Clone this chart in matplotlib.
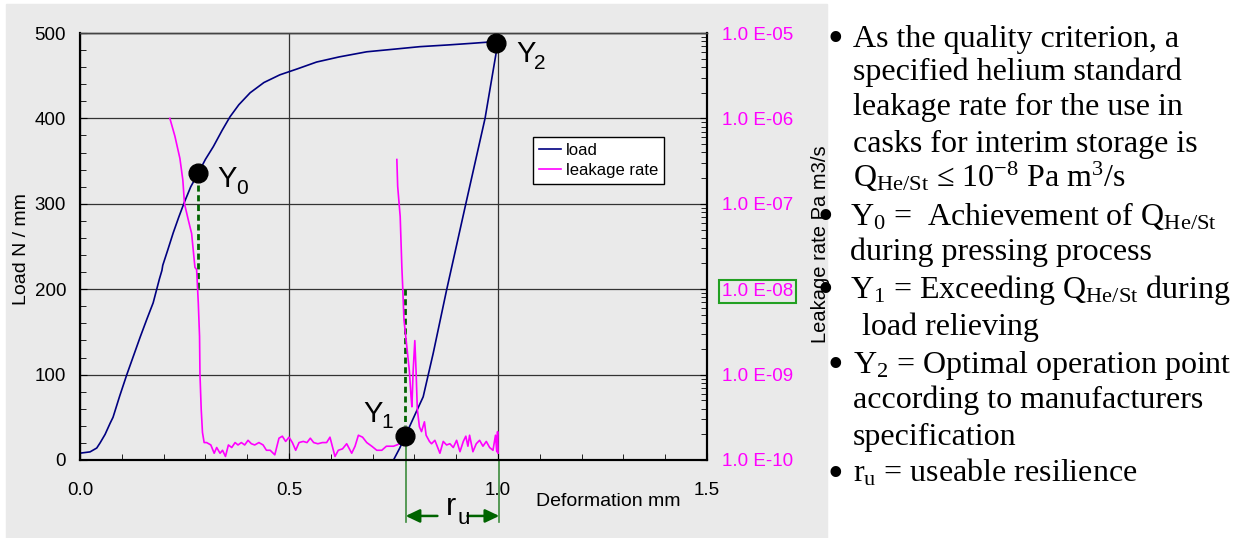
'''
Load / leakage rate vs deformation of a metal seal, with the Y0, Y1, Y2 points
'''
import matplotlib
matplotlib.use('Agg')
import matplotlib.pyplot as plt
import numpy as np
from matplotlib.ticker import MultipleLocator, LogLocator, NullFormatter, FormatStrFormatter
from matplotlib.patches import Rectangle

plt.rcParams['font.family'] = 'Liberation Sans'
plt.rcParams['mathtext.fontset'] = 'custom'
plt.rcParams['mathtext.rm'] = 'Liberation Serif'
plt.rcParams['mathtext.it'] = 'Liberation Serif:italic'
plt.rcParams['mathtext.sf'] = 'Liberation Sans'

W, H = 1237, 538
def fx(px): return px / W
def fy(py): return 1 - py / H

# load during pressing (mm, N/mm)
load_up_x = [0.000, 0.024, 0.040, 0.048, 0.060, 0.072, 0.079, 0.095, 0.112, 0.128,
             0.144, 0.160, 0.175, 0.190, 0.196, 0.198, 0.210, 0.223, 0.236, 0.249,
             0.265, 0.283, 0.300, 0.319, 0.340, 0.359, 0.380, 0.407, 0.440, 0.478,
             0.520, 0.566, 0.620, 0.686, 0.750, 0.813, 0.880, 0.940, 0.995]
load_up = [8, 9.5, 14, 20, 30, 43, 50, 75, 100, 122,
           144, 165, 184, 212, 222, 228, 246, 266, 284, 301,
           320, 336, 352, 367, 386, 402, 416, 430, 442, 451,
           458, 466, 472, 478, 481, 484, 486, 488, 490]

# load during relieving
load_down_x = [0.750, 0.765, 0.778, 0.805, 0.821, 0.845, 0.877, 0.923, 0.969, 0.996, 0.995]
load_down = [0, 14, 28, 57, 74, 125, 199, 300, 400, 478, 490]

# leakage rate during pressing (Pa m3/s)
leak_up_x = [0.215, 0.227, 0.239, 0.246, 0.250, 0.259, 0.267, 0.275, 0.279, 0.283,
             0.286, 0.287, 0.290, 0.293, 0.297, 0.303, 0.313, 0.321, 0.327, 0.335,
             0.341, 0.348, 0.355, 0.363, 0.371, 0.378, 0.386, 0.394, 0.402, 0.410,
             0.418, 0.428, 0.438, 0.446, 0.455, 0.466, 0.476, 0.484, 0.492, 0.500,
             0.508, 0.516, 0.524, 0.534, 0.543, 0.551, 0.559, 0.569, 0.580, 0.590,
             0.598, 0.610, 0.618, 0.628, 0.638, 0.650, 0.658, 0.666, 0.676, 0.686,
             0.698, 0.710, 0.722, 0.733, 0.742, 0.750, 0.758, 0.770]
leak_up = [1.0e-6, 6.2e-7, 3.4e-7, 1.9e-7, 1.0e-7, 6.5e-8, 4.5e-8, 1.8e-8, 1.7e-8, 6.9e-9,
           2.8e-9, 1.0e-9, 3.9e-10, 2.1e-10, 1.6e-10, 1.6e-10, 1.5e-10, 1.2e-10, 1.4e-10, 1.2e-10,
           1.3e-10, 1.1e-10, 1.5e-10, 1.4e-10, 1.6e-10, 1.5e-10, 1.6e-10, 1.5e-10, 1.7e-10, 1.55e-10,
           1.5e-10, 1.6e-10, 1.5e-10, 1.3e-10, 1.3e-10, 1.15e-10, 1.8e-10, 1.9e-10, 1.65e-10, 1.85e-10,
           1.6e-10, 1.3e-10, 1.6e-10, 1.65e-10, 1.6e-10, 1.8e-10, 1.6e-10, 1.55e-10, 1.6e-10, 1.6e-10,
           1.85e-10, 1.1e-10, 1.3e-10, 1.35e-10, 1.55e-10, 1.2e-10, 1.45e-10, 1.95e-10, 1.85e-10, 1.6e-10,
           1.45e-10, 1.3e-10, 1.3e-10, 1.45e-10, 1.45e-10, 1.45e-10, 1.5e-10, 1.6e-10]

# leakage rate during load relieving
leak_down_x = [0.758, 0.760, 0.766, 0.770, 0.772, 0.775, 0.782, 0.788, 0.792, 0.794,
               0.797, 0.801, 0.804, 0.807, 0.812, 0.817, 0.824, 0.828, 0.836, 0.841,
               0.849, 0.857, 0.861, 0.869, 0.877, 0.885, 0.893, 0.901, 0.909, 0.917,
               0.923, 0.928, 0.932, 0.940, 0.948, 0.956, 0.964, 0.972, 0.980, 0.988,
               0.994, 0.997, 0.999, 1.000]
leak_down = [3.3e-7, 1.6e-7, 7.1e-8, 1.8e-8, 1.07e-8, 4.4e-9, 2.1e-9, 1.1e-9, 5.5e-10, 4.2e-10,
             1.1e-9, 2.5e-9, 1.1e-9, 3.9e-10, 2.45e-10, 2.15e-10, 2.8e-10, 1.95e-10, 1.65e-10, 1.55e-10,
             1.7e-10, 1.35e-10, 1.2e-10, 1.65e-10, 1.5e-10, 1.55e-10, 1.4e-10, 1.7e-10, 1.25e-10, 1.65e-10,
             1.9e-10, 1.45e-10, 1.95e-10, 1.25e-10, 1.55e-10, 1.7e-10, 1.45e-10, 1.65e-10, 1.4e-10, 1.3e-10,
             1.95e-10, 1.25e-10, 2.15e-10, 1.2e-10]

# characteristic points
pt_sub = ['0', '1', '2']
pt_x = [0.283, 0.777, 0.995]
pt_load = [336, 28, 488]
q_limit = 1e-8
ru_x = [0.779, 1.003]

leak_ticks = [1e-10, 1e-9, 1e-8, 1e-7, 1e-6, 1e-5]
leak_tick_labels = ['1.0 E-10', '1.0 E-09', '1.0 E-08', '1.0 E-07', '1.0 E-06', '1.0 E-05']

navy = '#000080'
mag = '#FF00FF'
dgreen = '#006400'
gray = '#EAEAEA'

fig = plt.figure(figsize=(W / 100, H / 100), dpi=100)
fig.patches.append(Rectangle((fx(6), 0), fx(827) - fx(6), fy(4), transform=fig.transFigure,
                             color=gray, zorder=-1))

ax = fig.add_axes([fx(80), fy(460), fx(707) - fx(80), fy(33) - fy(460)])
ax.set_facecolor(gray)
ax2 = ax.twinx()

l_load, = ax.plot(load_up_x, load_up, color=navy, lw=1.2)
ax.plot(load_down_x, load_down, color=navy, lw=1.2)

l_leak, = ax2.plot(leak_up_x, leak_up, color=mag, lw=1.2)
ax2.plot(leak_down_x, leak_down, color=mag, lw=1.2)

# load equivalent of the leakage limit on the right log axis
q_load = (np.log10(q_limit) + 10) * 100

# dashed drop lines
ax.plot([pt_x[0], pt_x[0]], [pt_load[0] - 14, q_load], color=dgreen, lw=2, dashes=(2.2, 1.3))
ax.plot([pt_x[1], pt_x[1]], [q_load, pt_load[1] + 12], color=dgreen, lw=2, dashes=(2.2, 1.3))

# points
ax2.plot(pt_x, pt_load, 'o', color='black', ms=13.5, transform=ax.transData, zorder=5)

sub_off = [((19, -14), (38, -21)), ((-41, 14), (-23, 8)), ((20, -19), (38, -26))]
for i in range(3):
    (o1, o2) = sub_off[i]
    ax.annotate('Y', xy=(pt_x[i], pt_load[i]), xytext=o1, textcoords='offset pixels',
                fontsize=21, va='baseline', ha='left')
    ax.annotate(pt_sub[i], xy=(pt_x[i], pt_load[i]), xytext=o2, textcoords='offset pixels',
                fontsize=15, va='baseline', ha='left')

# useable resilience
xt = ax.get_xaxis_transform()
ax.plot([ru_x[0], ru_x[0]], [0.04, -0.145], color='#3c8c3c', lw=1.2, transform=xt, clip_on=False)
ax.plot([ru_x[1], ru_x[1]], [0.0, -0.145], color='#3c8c3c', lw=1.2, transform=xt, clip_on=False)
ru_mid = (ru_x[0] + ru_x[1]) / 2
ax.annotate('', xy=(ru_x[0], -0.131), xytext=(ru_mid - 0.036, -0.131), xycoords=xt,
            arrowprops=dict(arrowstyle='-|>,head_length=0.42,head_width=0.2', color=dgreen,
                            lw=1.8, shrinkA=0, shrinkB=0, mutation_scale=20),
            annotation_clip=False)
ax.annotate('', xy=(ru_x[1], -0.131), xytext=(ru_mid + 0.036, -0.131), xycoords=xt,
            arrowprops=dict(arrowstyle='-|>,head_length=0.42,head_width=0.2', color=dgreen,
                            lw=1.8, shrinkA=0, shrinkB=0, mutation_scale=20),
            annotation_clip=False)
ax.annotate('r', xy=(ru_mid, 0), xycoords=xt, xytext=(-7, -55), textcoords='offset pixels',
            fontsize=22, va='baseline', ha='left', annotation_clip=False)
ax.annotate('u', xy=(ru_mid, 0), xycoords=xt, xytext=(5, -64), textcoords='offset pixels',
            fontsize=16, va='baseline', ha='left', annotation_clip=False)

# axes settings
ax.set_xlim(0, 1.5)
ax.set_ylim(0, 500)
ax.xaxis.set_major_locator(MultipleLocator(0.5))
ax.xaxis.set_minor_locator(MultipleLocator(0.1))
ax.xaxis.set_major_formatter(FormatStrFormatter('%.1f'))
ax.yaxis.set_major_locator(MultipleLocator(100))
ax.yaxis.set_minor_locator(MultipleLocator(20))
ax.grid(True, which='major', color='#333333', lw=0.9)
ax.tick_params(which='both', direction='in', labelsize=13.5, color='black')
ax.tick_params(which='major', length=5)
ax.tick_params(which='minor', length=4)
ax.tick_params(axis='x', pad=16)
ax.tick_params(axis='y', pad=10)
ax.set_xlabel('Deformation mm', fontsize=14)
ax.xaxis.set_label_coords((608 - 80) / 627, -0.077)

ax2.set_yscale('log')
ax2.set_ylim(1e-10, 1e-5)
ax2.set_yticks(leak_ticks)
labs = ax2.set_yticklabels(leak_tick_labels)
ax2.yaxis.set_minor_locator(LogLocator(base=10, subs=np.arange(2, 10)))
ax2.yaxis.set_minor_formatter(NullFormatter())
ax2.tick_params(which='both', direction='in', labelsize=13.5, labelcolor=mag, pad=10.5)
ax2.tick_params(which='major', length=5)
ax2.tick_params(which='minor', length=4)
labs[2].set_bbox(dict(boxstyle='square,pad=0.15', fill=False, edgecolor='#22a022', lw=1.5))

for a in (ax, ax2):
    for s in ('left', 'bottom', 'right'):
        a.spines[s].set_linewidth(1.5)
        a.spines[s].set_color('black')
    a.spines['top'].set_color('#444444')
    a.spines['top'].set_linewidth(1)

fig.text(fx(22), fy(249), 'Load N / mm', rotation=90, ha='center', va='center', fontsize=14)
fig.text(fx(820), fy(244), 'Leakage rate Pa m3/s', rotation=90, ha='center', va='center', fontsize=14.5)

leg = ax2.legend([l_load, l_leak], ['load', 'leakage rate'], loc='upper left',
                 bbox_to_anchor=((533 - 80) / 627, (460 - 137) / 427), borderaxespad=0,
                 fontsize=12, frameon=True, fancybox=False, framealpha=1, edgecolor='black',
                 handlelength=1.3, handletextpad=0.3, labelspacing=0.3, borderpad=0.35)
leg.get_frame().set_linewidth(1)

# explanation text at the right
serif = 'Liberation Serif'
text_lines = [
    (853, 47, 'As the quality criterion, a'),
    (853, 80, 'specified helium standard'),
    (853, 115, 'leakage rate for the use in'),
    (853, 152, 'casks for interim storage is'),
    (853, 187, r'Q$_{\mathrm{He/St}}$ ≤ 10$^{\mathrm{-8}}$ Pa m$^{\mathrm{3}}$/s'),
    (850, 225, r'Y$_{\mathrm{0}}$ =  Achievement of Q$_{\mathrm{He/St}}$'),
    (850, 260, 'during pressing process'),
    (850, 298, r'Y$_{\mathrm{1}}$ = Exceeding Q$_{\mathrm{He/St}}$ during'),
    (862, 335, 'load relieving'),
    (853, 373, r'Y$_{\mathrm{2}}$ = Optimal operation point'),
    (853, 408, 'according to manufacturers'),
    (853, 445, 'specification'),
    (853, 482, r'r$_{\mathrm{u}}$ = useable resilience'),
]
bullets = [(828, 51), (818, 229), (818, 302), (828, 377), (828, 486)]
for x, y, t in text_lines:
    fig.text(fx(x), fy(y), t, family=serif, fontsize=23, va='baseline', ha='left')
for x, y in bullets:
    fig.text(fx(x), fy(y), '•', family=serif, fontsize=32, va='baseline', ha='left')

fig.savefig('out.png', dpi=100, facecolor='white')
